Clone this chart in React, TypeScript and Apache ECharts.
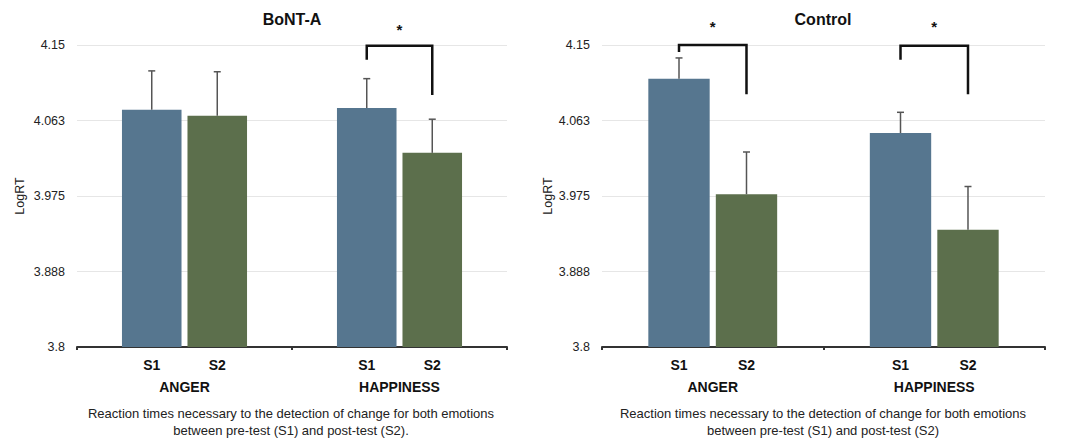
import React, { useEffect, useRef } from "react";
import * as echarts from "echarts";

const groups = ["ANGER", "HAPPINESS"];
const yTicksMin = 3.8;
const yTicksMax = 4.15;
const yStep = 0.0875;

const bontS1 = [4.075, 4.077];
const bontS1Err = [4.12, 4.111];
const bontS2 = [4.068, 4.025];
const bontS2Err = [4.119, 4.064];

const ctrlS1 = [4.111, 4.048];
const ctrlS1Err = [4.135, 4.072];
const ctrlS2 = [3.977, 3.936];
const ctrlS2Err = [4.026, 3.986];

// [group index, bracket top, left leg end, right leg end]
const bontBrackets = [[1, 4.149, 4.133, 4.092]];
const ctrlBrackets = [
  [0, 4.15, 4.142, 4.093],
  [1, 4.149, 4.133, 4.093],
];

const titles = ["BoNT-A", "Control"];
const captions = [
  "Reaction times necessary to the detection of change for both emotions\nbetween pre-test (S1) and post-test (S2).",
  "Reaction times necessary to the detection of change for both emotions\nbetween pre-test (S1) and post-test (S2)",
];

const FONT = "'Liberation Sans', Arial, Helvetica, sans-serif";
const BLUE = "#56768f";
const GREEN = "#5c6f4c";
const BAR_W = 0.277;
const OFFSET = (BAR_W * 1.1) / 2;

function errRender(off: number) {
  return (params: any, api: any) => {
    const cat = api.value(0);
    const top = api.coord([cat, api.value(1)]);
    const err = api.coord([cat, api.value(2)]);
    const band = api.size([1, 0])[0];
    const x = top[0] + off * band;
    const st = { stroke: "#555", lineWidth: 1.5 };
    return {
      type: "group",
      children: [
        { type: "line", shape: { x1: x, y1: top[1], x2: x, y2: err[1] }, style: st },
        { type: "line", shape: { x1: x - 3.5, y1: err[1], x2: x + 3.5, y2: err[1] }, style: st },
      ],
    };
  };
}

function bracketRender(starGap: number) {
  return (params: any, api: any) => {
    const cat = api.value(0);
    const c = api.coord([cat, api.value(1)]);
    const l = api.coord([cat, api.value(2)]);
    const r = api.coord([cat, api.value(3)]);
    const band = api.size([1, 0])[0];
    const x1 = c[0] - OFFSET * band;
    const x2 = c[0] + OFFSET * band;
    return {
      type: "group",
      children: [
        {
          type: "polyline",
          shape: { points: [[x1, l[1]], [x1, c[1]], [x2, c[1]], [x2, r[1]]] },
          style: { stroke: "#111", lineWidth: 2.5, fill: "none" },
        },
        {
          type: "text",
          x: (x1 + x2) / 2,
          y: c[1] - starGap,
          style: {
            text: "*",
            font: `bold 15px ${FONT}`,
            fill: "#111",
            textAlign: "center",
            textVerticalAlign: "middle",
          },
        },
      ],
    };
  };
}

function fmt(v: number) {
  const r = Math.round(v * 1000 + 1e-6) / 1000;
  return String(r);
}

export default function App() {
  const ref = useRef<HTMLDivElement>(null);
  useEffect(() => {
    document.body.style.margin = "0";
    const chart = echarts.init(ref.current!, null, { renderer: "svg" });
    const grids = [
      { left: 77, right: 563, top: 45, bottom: 92 },
      { left: 602, right: 25, top: 45, bottom: 92 },
    ];
    const xAxis = [0, 1].map((i) => ({
      type: "category",
      gridIndex: i,
      data: groups,
      axisLine: { lineStyle: { color: "#333", width: 2 } },
      axisTick: { show: true, length: 3, lineStyle: { color: "#333", width: 2 } },
      axisLabel: { margin: 33, fontFamily: FONT, fontWeight: "bold", fontSize: 14, color: "#111" },
    }));
    const yAxis = [0, 1].map((i) => ({
      type: "value",
      gridIndex: i,
      min: yTicksMin,
      max: yTicksMax,
      interval: yStep,
      name: "LogRT",
      nameLocation: "middle",
      nameGap: i === 0 ? 51 : 46,
      nameTextStyle: { fontFamily: FONT, fontSize: 12.5, color: "#222" },
      axisLine: { show: false },
      axisTick: { show: false },
      splitLine: { lineStyle: { color: "#e6e6e6", width: 1 } },
      axisLabel: { margin: 12, fontFamily: FONT, fontSize: 12.5, color: "#222", formatter: fmt },
    }));
    const barLabel = {
      show: true,
      position: "bottom",
      distance: 11,
      formatter: "{a}",
      fontFamily: FONT,
      fontWeight: "bold",
      fontSize: 14,
      color: "#111",
    };
    const mkBars = (i: number, s1: number[], s2: number[]) => [
      {
        type: "bar",
        name: "S1",
        xAxisIndex: i,
        yAxisIndex: i,
        data: s1,
        barWidth: `${BAR_W * 100}%`,
        barGap: "10%",
        itemStyle: { color: BLUE },
        label: barLabel,
      },
      {
        type: "bar",
        name: "S2",
        xAxisIndex: i,
        yAxisIndex: i,
        data: s2,
        barWidth: `${BAR_W * 100}%`,
        barGap: "10%",
        itemStyle: { color: GREEN },
        label: barLabel,
      },
    ];
    const mkErr = (i: number, v: number[], e: number[], off: number) => ({
      type: "custom",
      xAxisIndex: i,
      yAxisIndex: i,
      z: 3,
      silent: true,
      renderItem: errRender(off),
      data: v.map((val, k) => [k, val, e[k]]),
    });
    const mkBr = (i: number, b: number[][], gap: number) => ({
      type: "custom",
      xAxisIndex: i,
      yAxisIndex: i,
      z: 4,
      silent: true,
      clip: false,
      renderItem: bracketRender(gap),
      data: b,
    });
    const capStyle = { fontFamily: FONT, fontSize: 13, fontWeight: "normal", lineHeight: 17, color: "#222" };
    const titleStyle = { fontFamily: FONT, fontSize: 16, fontWeight: "bold", color: "#111" };
    chart.setOption({
      animation: false,
      title: [
        { text: titles[0], left: 292, top: 11, padding: 0, textAlign: "center", textStyle: titleStyle },
        { text: titles[1], left: 823, top: 11, padding: 0, textAlign: "center", textStyle: titleStyle },
        { text: captions[0], left: 291, top: 405, padding: 0, textAlign: "center", textStyle: capStyle },
        { text: captions[1], left: 823, top: 405, padding: 0, textAlign: "center", textStyle: capStyle },
      ],
      grid: grids,
      xAxis,
      yAxis,
      series: [
        ...mkBars(0, bontS1, bontS2),
        ...mkBars(1, ctrlS1, ctrlS2),
        mkErr(0, bontS1, bontS1Err, -OFFSET),
        mkErr(0, bontS2, bontS2Err, OFFSET),
        mkErr(1, ctrlS1, ctrlS1Err, -OFFSET),
        mkErr(1, ctrlS2, ctrlS2Err, OFFSET),
        mkBr(0, bontBrackets, 16),
        mkBr(1, ctrlBrackets, 19),
      ],
    });
    return () => chart.dispose();
  }, []);
  return <div ref={ref} style={{ width: 1070, height: 439 }} />;
}
